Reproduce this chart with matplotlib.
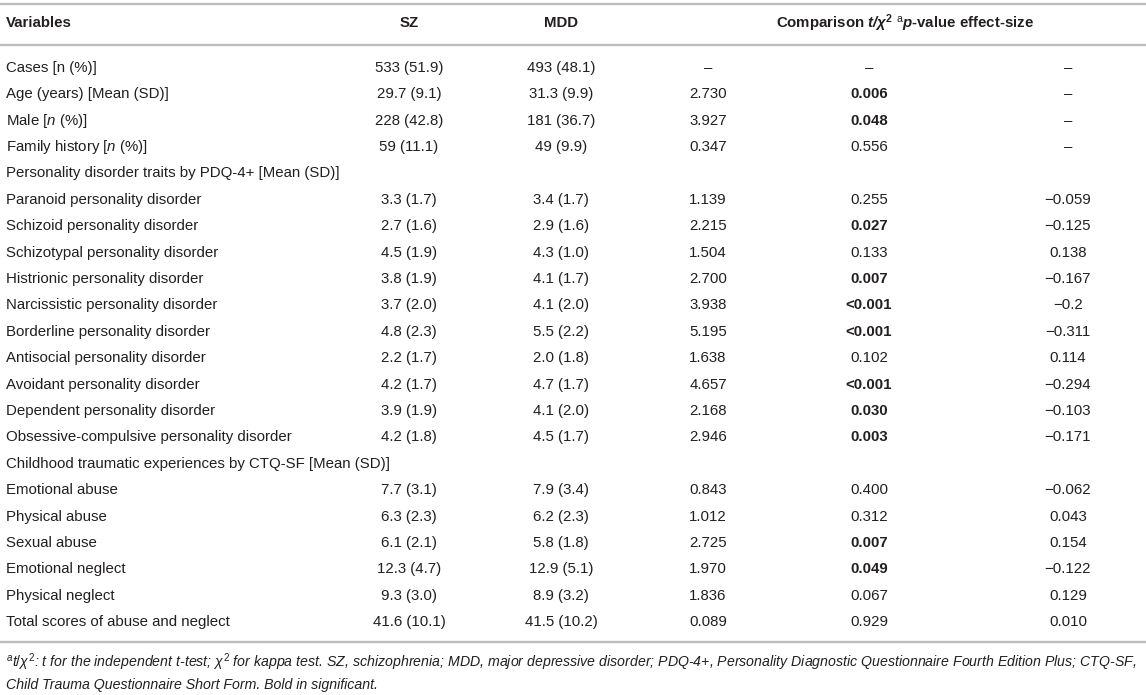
import matplotlib
matplotlib.use('Agg')
import matplotlib.pyplot as plt

plt.rcParams['font.family'] = ['Liberation Sans', 'DejaVu Sans']
plt.rcParams['mathtext.fontset'] = 'custom'
plt.rcParams['mathtext.rm'] = 'Liberation Sans'
plt.rcParams['mathtext.it'] = 'Liberation Sans:italic'
plt.rcParams['mathtext.bf'] = 'Liberation Sans:bold'
plt.rcParams['mathtext.bfit'] = 'Liberation Sans:bold:italic'

### Table data

variables = [
    'Cases [n (%)]',
    'Age (years) [Mean (SD)]',
    r'Male [$\mathit{n}$ (%)]',
    r'Family history [$\mathit{n}$ (%)]',
    'Personality disorder traits by PDQ-4+ [Mean (SD)]',
    'Paranoid personality disorder',
    'Schizoid personality disorder',
    'Schizotypal personality disorder',
    'Histrionic personality disorder',
    'Narcissistic personality disorder',
    'Borderline personality disorder',
    'Antisocial personality disorder',
    'Avoidant personality disorder',
    'Dependent personality disorder',
    'Obsessive-compulsive personality disorder',
    'Childhood traumatic experiences by CTQ-SF [Mean (SD)]',
    'Emotional abuse',
    'Physical abuse',
    'Sexual abuse',
    'Emotional neglect',
    'Physical neglect',
    'Total scores of abuse and neglect',
]
sz = ['533 (51.9)', '29.7 (9.1)', '228 (42.8)', '59 (11.1)', '',
      '3.3 (1.7)', '2.7 (1.6)', '4.5 (1.9)', '3.8 (1.9)', '3.7 (2.0)',
      '4.8 (2.3)', '2.2 (1.7)', '4.2 (1.7)', '3.9 (1.9)', '4.2 (1.8)', '',
      '7.7 (3.1)', '6.3 (2.3)', '6.1 (2.1)', '12.3 (4.7)', '9.3 (3.0)',
      '41.6 (10.1)']
mdd = ['493 (48.1)', '31.3 (9.9)', '181 (36.7)', '49 (9.9)', '',
       '3.4 (1.7)', '2.9 (1.6)', '4.3 (1.0)', '4.1 (1.7)', '4.1 (2.0)',
       '5.5 (2.2)', '2.0 (1.8)', '4.7 (1.7)', '4.1 (2.0)', '4.5 (1.7)', '',
       '7.9 (3.4)', '6.2 (2.3)', '5.8 (1.8)', '12.9 (5.1)', '8.9 (3.2)',
       '41.5 (10.2)']
t_chi = ['–', '2.730', '3.927', '0.347', '',
         '1.139', '2.215', '1.504', '2.700', '3.938', '5.195', '1.638',
         '4.657', '2.168', '2.946', '',
         '0.843', '1.012', '2.725', '1.970', '1.836', '0.089']
p_value = ['–', '0.006', '0.048', '0.556', '',
           '0.255', '0.027', '0.133', '0.007', '<0.001', '<0.001', '0.102',
           '<0.001', '0.030', '0.003', '',
           '0.400', '0.312', '0.007', '0.049', '0.067', '0.929']
effect = ['–', '–', '–', '–', '',
          '−0.059', '−0.125', '0.138', '−0.167', '−0.2', '−0.311', '0.114',
          '−0.294', '−0.103', '−0.171', '',
          '−0.062', '0.043', '0.154', '−0.122', '0.129', '0.010']

header = ['Variables', 'SZ', 'MDD',
          r'Comparison $\mathbfit{t/\chi}^{\mathbf{2}}$ $^{\mathrm{a}}$$\mathbfit{p}$-value effect-size']
footnote = [r'$^{a}$$t/\chi^{2}$: t for the independent t-test; $\chi^{2}$ for kappa test. SZ, schizophrenia; MDD, major depressive disorder; PDQ-4+, Personality Diagnostic Questionnaire Fourth Edition Plus; CTQ-SF,',
            'Child Trauma Questionnaire Short Form. Bold in significant.']


def is_sig(p):
    if p.startswith('<'):
        return True
    try:
        return float(p) < 0.05
    except ValueError:
        return False


W, H = 1146, 695
fig = plt.figure(figsize=(W / 100, H / 100), dpi=100)
ax = fig.add_axes([0, 0, 1, 1])
ax.set_xlim(0, W)
ax.set_ylim(H, 0)
ax.axis('off')

txt_col = '#231f20'
line_col = '#bdbdbd'
fs = 10.8
col_x = [6, 409, 561, 708, 869, 1068]
y0, dy = 67.8, 26.4

# rules
for yl in [4, 45, 642]:
    ax.plot([0, W], [yl, yl], color=line_col, lw=1.7, solid_capstyle='butt')

# header
ax.text(col_x[0], 23, header[0], ha='left', va='center', fontsize=fs,
        fontweight='bold', color=txt_col)
ax.text(col_x[1], 23, header[1], ha='center', va='center', fontsize=fs,
        fontweight='bold', color=txt_col)
ax.text(col_x[2], 23, header[2], ha='center', va='center', fontsize=fs,
        fontweight='bold', color=txt_col)
ax.text(776, 23, header[3], ha='left', va='center', fontsize=fs,
        fontweight='bold', color=txt_col)

# body
for i, var in enumerate(variables):
    y = y0 + i * dy
    ax.text(col_x[0], y, var, ha='left', va='center', fontsize=fs, color=txt_col)
    for j, vals in enumerate([sz, mdd, t_chi, p_value, effect]):
        w = 'bold' if (vals is p_value and is_sig(vals[i])) else 'normal'
        ax.text(col_x[j + 1], y, vals[i], ha='center', va='center',
                fontsize=fs, fontweight=w, color=txt_col)

# footnote
for k, line in enumerate(footnote):
    ax.text(col_x[0], 662 + k * 23, line, ha='left', va='center',
            fontsize=10.2, style='italic', color=txt_col)

fig.savefig('out.png', dpi=100)
